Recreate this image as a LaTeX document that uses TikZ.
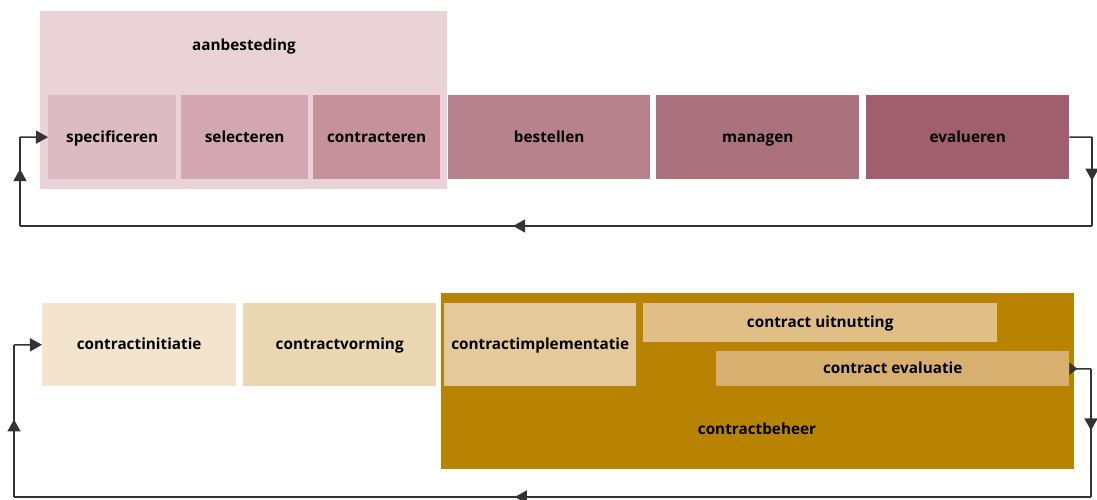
\documentclass[tikz,border=0pt]{standalone}
\usepackage{fontspec}
\setmainfont{Open Sans}
\usetikzlibrary{arrows.meta,decorations.markings}
\definecolor{cAanb}{HTML}{E9D3D9}
\definecolor{cSpec}{HTML}{DDBBC4}
\definecolor{cSel}{HTML}{D2A7B1}
\definecolor{cCon}{HTML}{C5929C}
\definecolor{cBest}{HTML}{B8828D}
\definecolor{cMan}{HTML}{AB727E}
\definecolor{cEval}{HTML}{A05E6E}
\definecolor{cInit}{HTML}{F3E4CE}
\definecolor{cVorm}{HTML}{EAD8B3}
\definecolor{cBeh}{HTML}{B88400}
\definecolor{cImpl}{HTML}{E6C99B}
\definecolor{cUit}{HTML}{E0BE86}
\definecolor{cCev}{HTML}{D7B06F}
\definecolor{cLine}{HTML}{333333}
\tikzset{
  box/.style={draw=none, inner sep=0pt, anchor=north west, align=center,
    text height=13pt, text depth=3pt,
    font=\bfseries\fontsize{15.3}{18}\selectfont, text=black},
  lbl/.style={inner sep=0pt, text height=13pt, text depth=3pt,
    font=\bfseries\fontsize{15.3}{18}\selectfont, text=black},
  flow/.style={draw=cLine, line width=1.5pt},
  tip/.style={-{Triangle[width=13pt,length=12pt]}},
  midarrow/.style={postaction={decorate,decoration={markings,
    mark=at position #1 with {\arrow{Triangle[width=13pt,length=12pt]}}}}}
}
\begin{document}
\begin{tikzpicture}[x=1pt,y=-1pt]
\useasboundingbox (0,0) rectangle (1097,500);
% ---------- top ----------
\node[box, fill=cAanb, minimum width=407pt, minimum height=178pt] (aanb) at (40,11) {};
\node[lbl] (aanblbl) at (244,46) {aanbesteding};
\node[box, fill=cSpec, minimum width=128pt, minimum height=84pt] (spec) at (48,95) {specificeren};
\node[box, fill=cSel, minimum width=127pt, minimum height=84pt] (sel) at (181,95) {selecteren};
\node[box, fill=cCon, minimum width=127pt, minimum height=84pt] (con) at (313,95) {contracteren};
\node[box, fill=cBest, minimum width=202pt, minimum height=84pt] (best) at (448,95) {bestellen};
\node[box, fill=cMan, minimum width=203pt, minimum height=84pt] (man) at (656,95) {managen};
\node[box, fill=cEval, minimum width=203pt, minimum height=84pt] (eval) at (866,95) {evalueren};
\coordinate (c1) at (1092,137);
\coordinate (t1) at (1092,226);
\coordinate (t2) at (20,226);
\coordinate (c2) at (20,137);
\draw[flow] (eval.east) -- (c1);
\draw[flow, midarrow=0.49] (c1) -- (t1);
\draw[flow, midarrow=0.54] (t1) -- (t2);
\draw[flow, midarrow=0.64] (t2) -- (c2);
\draw[flow, tip] (c2) -- (spec.west);
% ---------- bottom ----------
\node[box, fill=cBeh, minimum width=633pt, minimum height=176pt] (beh) at (441,293) {};
\node[lbl] (behlbl) at (757,429) {contractbeheer};
\node[box, fill=cInit, minimum width=194pt, minimum height=83pt] (init) at (42,303) {contractinitiatie};
\node[box, fill=cVorm, minimum width=193pt, minimum height=83pt] (vorm) at (243,303) {contractvorming};
\node[box, fill=cImpl, minimum width=192pt, minimum height=83pt] (impl) at (444,303) {contractimplementatie};
\node[box, fill=cUit, minimum width=354pt, minimum height=39pt] (uit) at (643,303) {contract uitnutting};
\node[box, fill=cCev, minimum width=353pt, minimum height=35pt] (cev) at (716,351) {contract evaluatie};
\coordinate (c3) at (1091,369);
\coordinate (b1) at (1091,497);
\coordinate (b2) at (14,497);
\coordinate (c4) at (14,345);
\draw[flow, {Triangle[width=12pt,length=8pt,reversed]}-] (cev.east) -- (c3);
\draw[flow, midarrow=0.48] (c3) -- (b1);
\draw[flow, midarrow=0.535] (b1) -- (b2);
\draw[flow, midarrow=0.51] (b2) -- (c4);
\draw[flow, tip] (c4) -- (init.west);
\end{tikzpicture}
\end{document}
